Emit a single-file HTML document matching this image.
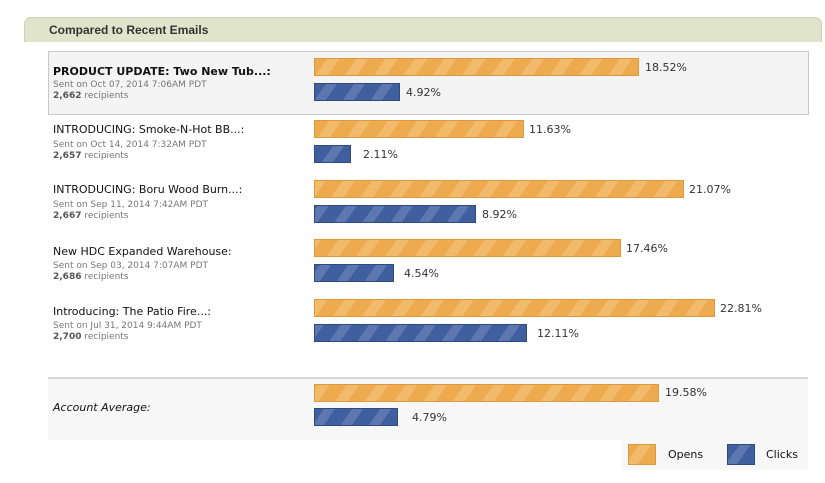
<!DOCTYPE html>
<html><head><meta charset="utf-8"><style>
body{margin:0;width:825px;height:483px;background:#fff;position:relative;overflow:hidden;font-family:"DejaVu Sans","Liberation Sans",sans-serif;color:#111}
.hdr{position:absolute;left:24px;top:17px;width:796px;height:24px;background:#e0e4cb;border:1px solid #cdd3b0;border-bottom:none;border-radius:7px 7px 0 0}
.hdr span{position:absolute;left:24px;top:5px;font:bold 12px "Liberation Sans",sans-serif;color:#333}
.sel{position:absolute;left:48px;top:51px;width:759px;height:62px;background:#f4f4f4;border:1px solid #c8c8c8}
.avg{position:absolute;left:48px;top:377px;width:760px;height:61px;background:#f7f7f7;border-top:2px solid #d6d6d6}
.leg{position:absolute;left:622px;top:438px;width:186px;height:32px;background:#f7f7f7}
.b{position:absolute;height:18px;box-sizing:border-box}
.o{background:repeating-linear-gradient(-55deg,#eeaa4f 0 14px,#f2bb6c 14px 24px);border:1px solid #dc9a3c}
.c{background:repeating-linear-gradient(-55deg,#3f5f9e 0 14px,#5d78b0 14px 23px);border:1px solid #2e4a80}
.v{position:absolute;font-size:11px;color:#333}
.t{position:absolute;left:53px;font-size:11px;color:#111}
.s{position:absolute;left:53px;font-size:9px;color:#777;line-height:11px}
.s b{color:#555}
</style></head><body>
<div class="hdr"><span>Compared to Recent Emails</span></div>
<div class="sel"></div>
<div class="avg"></div>
<div class="leg"></div>

<div class="t" style="top:65px;font-weight:bold">PRODUCT UPDATE: Two New Tub...:</div>
<div class="s" style="top:80px">Sent on Oct 07, 2014 7:06AM PDT<br><b>2,662</b> recipients</div>
<div class="b o" style="left:314px;top:58px;width:325px"></div><div class="v" style="left:645px;top:61px">18.52%</div>
<div class="b c" style="left:314px;top:83px;width:86px"></div><div class="v" style="left:406px;top:86px">4.92%</div>

<div class="t" style="top:123px">INTRODUCING: Smoke-N-Hot BB...:</div>
<div class="s" style="top:140px">Sent on Oct 14, 2014 7:32AM PDT<br><b>2,657</b> recipients</div>
<div class="b o" style="left:314px;top:120px;width:210px"></div><div class="v" style="left:529px;top:123px">11.63%</div>
<div class="b c" style="left:314px;top:145px;width:37px"></div><div class="v" style="left:363px;top:148px">2.11%</div>

<div class="t" style="top:183px">INTRODUCING: Boru Wood Burn...:</div>
<div class="s" style="top:200px">Sent on Sep 11, 2014 7:42AM PDT<br><b>2,667</b> recipients</div>
<div class="b o" style="left:314px;top:180px;width:370px"></div><div class="v" style="left:689px;top:183px">21.07%</div>
<div class="b c" style="left:314px;top:205px;width:162px"></div><div class="v" style="left:482px;top:208px">8.92%</div>

<div class="t" style="top:245px">New HDC Expanded Warehouse:</div>
<div class="s" style="top:261px">Sent on Sep 03, 2014 7:07AM PDT<br><b>2,686</b> recipients</div>
<div class="b o" style="left:314px;top:239px;width:307px"></div><div class="v" style="left:626px;top:242px">17.46%</div>
<div class="b c" style="left:314px;top:264px;width:80px"></div><div class="v" style="left:404px;top:267px">4.54%</div>

<div class="t" style="top:305px">Introducing: The Patio Fire...:</div>
<div class="s" style="top:321px">Sent on Jul 31, 2014 9:44AM PDT<br><b>2,700</b> recipients</div>
<div class="b o" style="left:314px;top:299px;width:401px"></div><div class="v" style="left:720px;top:302px">22.81%</div>
<div class="b c" style="left:314px;top:324px;width:213px"></div><div class="v" style="left:537px;top:327px">12.11%</div>

<div class="t" style="top:401px;font-style:italic">Account Average:</div>
<div class="b o" style="left:314px;top:384px;width:345px"></div><div class="v" style="left:665px;top:386px">19.58%</div>
<div class="b c" style="left:314px;top:408px;width:84px"></div><div class="v" style="left:412px;top:411px">4.79%</div>

<div class="b o" style="left:628px;top:444px;width:28px;height:21px"></div><div class="v" style="left:668px;top:448px;color:#111">Opens</div>
<div class="b c" style="left:727px;top:444px;width:28px;height:21px"></div><div class="v" style="left:766px;top:448px;color:#111">Clicks</div>
</body></html>
